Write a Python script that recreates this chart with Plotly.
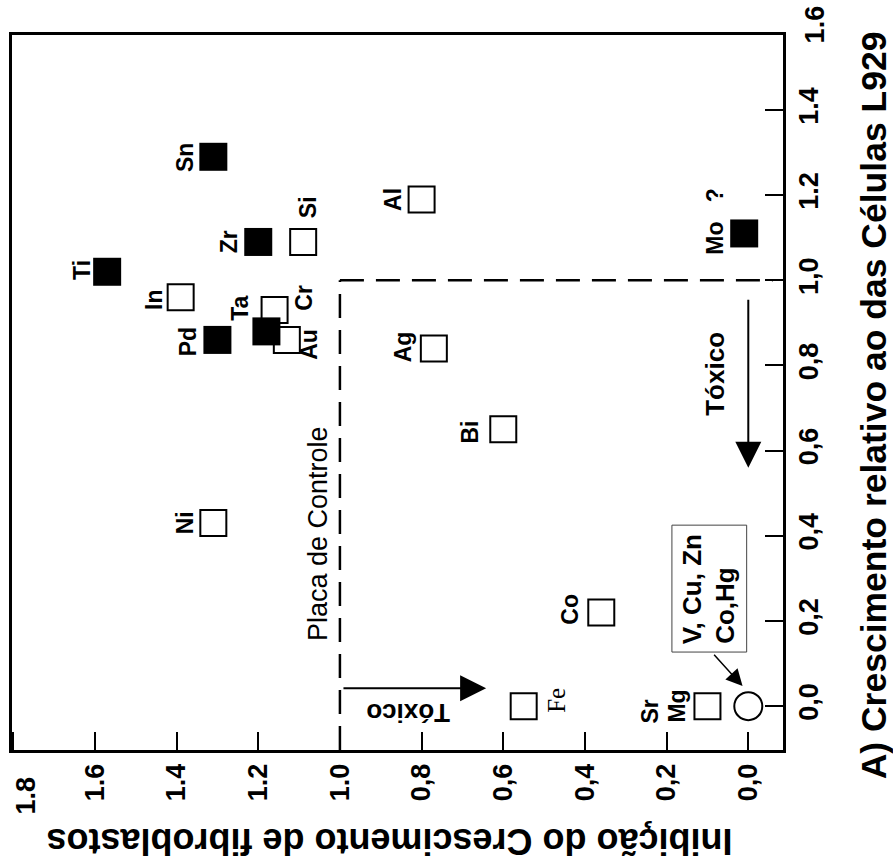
import plotly.graph_objects as go

# ---- data ----
elements = ["Sn", "Zr", "Ti", "Si", "Al", "Mo ?", "In", "Pd", "Ta", "Cr", "Au",
            "Ni", "Ag", "Bi", "Co", "Fe", "Mg"]
inibicao = [1.31, 1.20, 1.57, 1.09, 0.80, 0.01, 1.39, 1.30, 1.18, 1.16, 1.13,
            1.31, 0.77, 0.60, 0.36, 0.55, 0.10]
crescimento = [1.29, 1.09, 1.02, 1.09, 1.19, 1.11, 0.96, 0.86, 0.88, 0.93, 0.86,
               0.43, 0.84, 0.65, 0.22, 0.00, 0.00]
filled = [True, True, True, False, False, True, False, True, True, False, False,
          False, False, False, False, False, False]

group_lines = ["V, Cu, Zn", "Co,Hg"]
group_inib = [0.0]
group_cresc = [0.0]
# legend-style box for the group label (Inibição span, Crescimento span)
group_box_x = [0.187, 0.004]
group_box_y = [0.127, 0.425]

controle = 1.0
x_ticks = [0.0, 0.2, 0.4, 0.6, 0.8, 1.0, 1.2, 1.4, 1.6, 1.8]
x_ticktext = ["0,0", "0,2", "0,4", "0,6", "0,8", "1.0", "1.2", "1.4", "1.6", ""]
x_edge_label = "1.8"
y_ticks = [0.0, 0.2, 0.4, 0.6, 0.8, 1.0, 1.2, 1.4]
y_ticktext = ["0,0", "0,2", "0,4", "0,6", "0,8", "1,0", "1.2", "1.4"]
y_extra_tick = 1.6

X_RANGE = [1.803, -0.085]
Y_RANGE = [-0.103, 1.576]

# label offsets in pixels (dx right, dy down) – styling only
label_offsets = {
    "Sn": (-29, 1), "Zr": (-29, 0), "Ti": (-25, -2), "Si": (5, -35),
    "Al": (-28, 0), "Mo ?": (-29, -12), "In": (-26, 3), "Pd": (-30, 2),
    "Ta": (-26, -23), "Cr": (30, -12), "Au": (22, 4), "Ni": (-28, 0),
    "Ag": (-30, -2), "Bi": (-33, 3), "Co": (-31, -3), "Fe": (32, -6),
    "Mg": (-30, 0),
}

SANS = "Liberation Sans, Arial, sans-serif"
SERIF = "Liberation Serif, Times New Roman, serif"

fig = go.Figure()

ox = [x for x, f in zip(inibicao, filled) if not f]
oy = [y for y, f in zip(crescimento, filled) if not f]
fig.add_trace(go.Scatter(x=ox, y=oy, mode="markers", showlegend=False,
                         marker=dict(symbol="square", size=26,
                                     color="rgba(0,0,0,0)",
                                     line=dict(color="black", width=2))))
fx = [x for x, f in zip(inibicao, filled) if f]
fy = [y for y, f in zip(crescimento, filled) if f]
fig.add_trace(go.Scatter(x=fx, y=fy, mode="markers", showlegend=False,
                         marker=dict(symbol="square", size=28, color="black",
                                     line=dict(width=0))))
fig.add_trace(go.Scatter(x=group_inib, y=group_cresc, mode="markers", showlegend=False,
                         marker=dict(symbol="circle", size=28, color="white",
                                     line=dict(color="black", width=2))))

dash = "24px,12px"
fig.add_trace(go.Scatter(x=[controle, controle], y=[Y_RANGE[0], controle], mode="lines",
                         showlegend=False, line=dict(color="black", width=2.5, dash=dash)))
fig.add_trace(go.Scatter(x=[controle, -0.06], y=[controle, controle], mode="lines",
                         showlegend=False, line=dict(color="black", width=2.5, dash=dash)))

# box around group label
fig.add_shape(type="rect", xref="x", yref="y",
              x0=group_box_x[0], x1=group_box_x[1],
              y0=group_box_y[0], y1=group_box_y[1],
              line=dict(color="#444", width=1), fillcolor="white", layer="above")

ann = []
for name, x, y in zip(elements, inibicao, crescimento):
    dx, dy = label_offsets[name]
    txt = name.replace(" ", "\u00a0\u00a0\u00a0")
    fnt = dict(family=SANS, size=23, color="black", weight="bold")
    if name == "Fe":
        fnt = dict(family=SERIF, size=25, color="black")
    ann.append(dict(x=x, y=y, text=txt, showarrow=False, textangle=-90,
                    xanchor="center", yanchor="middle", xshift=dx, yshift=-dy,
                    font=fnt))
ann.append(dict(x=inibicao[elements.index("Mg")], y=crescimento[elements.index("Mg")],
                text="Sr", showarrow=False, textangle=-90, xanchor="center",
                yanchor="middle", xshift=-57, yshift=-5,
                font=dict(family=SANS, size=23, color="black", weight="bold")))

# group label lines, both starting at the bottom of the box
gx = (group_box_x[0] + group_box_x[1]) / 2
for line_txt, shift in zip(group_lines, [-17, 15]):
    ann.append(dict(x=gx, y=group_box_y[0], text=line_txt, showarrow=False,
                    textangle=-90, xanchor="center", yanchor="bottom",
                    xshift=shift, yshift=6,
                    font=dict(family=SANS, size=26, color="black", weight="bold")))
ann.append(dict(x=0.014, y=0.047, ax=0.087, ay=0.124, axref="x", ayref="y",
                xref="x", yref="y", text="", showarrow=True, arrowhead=2,
                arrowsize=2.2, arrowwidth=1.5, arrowcolor="black"))

# Tóxico arrows
ann.append(dict(x=0.0, y=0.56, ax=0.0, ay=0.958, axref="x", ayref="y",
                text="", showarrow=True, arrowhead=2, arrowsize=2.6,
                arrowwidth=2, arrowcolor="black"))
ann.append(dict(x=0.082, y=0.78, text="Tóxico", showarrow=False, textangle=-90,
                font=dict(family=SANS, size=26, color="black", weight="bold")))
ann.append(dict(x=0.642, y=0.042, ax=0.995, ay=0.042, axref="x", ayref="y",
                text="", showarrow=True, arrowhead=2, arrowsize=2.6,
                arrowwidth=2, arrowcolor="black"))
ann.append(dict(x=0.832, y=-0.016, text="Tóxico", showarrow=False, textangle=180,
                font=dict(family=SANS, size=26, color="black", weight="bold")))

# Placa de Controle
ann.append(dict(x=1.054, y=0.406, text="Placa de Controle", showarrow=False,
                textangle=-90, font=dict(family=SANS, size=27, color="black")))

# extra tick label 1.6 (sits just above the frame)
y16 = (y_extra_tick - Y_RANGE[0]) / (Y_RANGE[1] - Y_RANGE[0])
ann.append(dict(xref="paper", yref="paper", x=1.041, y=y16, text="1.6",
                showarrow=False, textangle=-90, xanchor="center", yanchor="middle",
                font=dict(family=SANS, size=27, color="black", weight="bold")))
# edge tick label 1.8 (nudged inside the page)
ann.append(dict(xref="paper", yref="paper", x=0.0, y=-0.0635, xshift=14,
                text=x_edge_label, showarrow=False, textangle=-90,
                xanchor="center", yanchor="middle",
                font=dict(family=SANS, size=27, color="black", weight="bold")))

# axis titles
ann.append(dict(xref="paper", yref="paper", x=1.118, y=0.482,
                text="A) Crescimento relativo ao das Células L929",
                showarrow=False, textangle=-90, xanchor="center", yanchor="middle",
                font=dict(family=SANS, size=35.5, color="black", weight="bold")))
ann.append(dict(xref="paper", yref="paper", x=0.490, y=-0.1287,
                text="Inibição do Crescimento de fibroblastos",
                showarrow=False, textangle=180, xanchor="center", yanchor="middle",
                font=dict(family=SANS, size=36, color="black", weight="bold")))

tickfont = dict(family=SANS, size=27, color="black", weight="bold")
fig.update_layout(
    width=893, height=866,
    margin=dict(l=12, r=110, t=35, b=116, autoexpand=False),
    paper_bgcolor="white", plot_bgcolor="white",
    showlegend=False,
    annotations=ann,
    xaxis=dict(range=X_RANGE, tickvals=x_ticks, ticktext=x_ticktext,
               tickangle=-90, ticks="inside", ticklen=18, tickwidth=2,
               tickcolor="black", showline=True, linewidth=3, linecolor="black",
               mirror=True, showgrid=False, zeroline=False, tickfont=tickfont,
               automargin=False),
    yaxis=dict(range=Y_RANGE, side="right", tickvals=y_ticks,
               ticktext=y_ticktext, tickangle=-90, ticks="inside", ticklen=18,
               tickwidth=2, tickcolor="black", showline=True, linewidth=3,
               linecolor="black", mirror=True, showgrid=False, zeroline=False,
               tickfont=tickfont, automargin=False),
)

fig.write_html("out.html")
